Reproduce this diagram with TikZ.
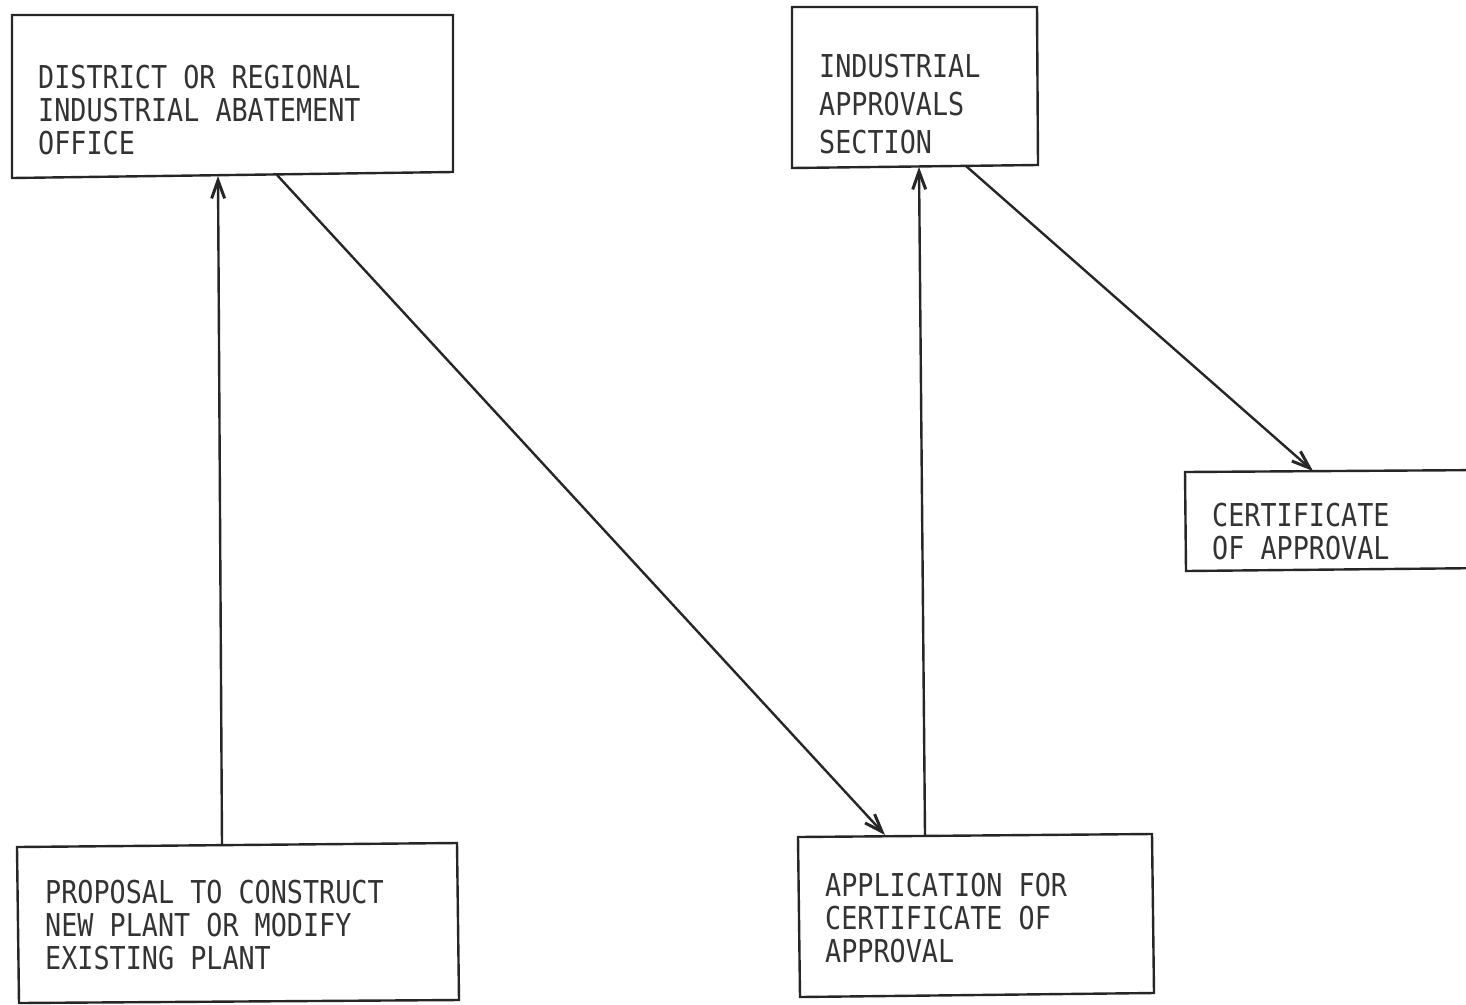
\documentclass[tikz,border=0pt]{standalone}
\usepackage{fontspec}
\setmonofont[FakeStretch=0.85]{DejaVu Sans Mono}
\usetikzlibrary{arrows.meta}
\begin{document}
\begin{tikzpicture}[x=1pt,y=-1pt,
  inkbox/.style={draw=black!85, line width=2.4pt},
  boxtext/.style={anchor=north west, inner sep=0pt, align=left,
    font=\fontsize{31.5}{33}\selectfont\ttfamily, text=black!80},
  flow/.style={draw=black!85, line width=2.4pt,
    -{Straight Barb[length=18pt,width=13pt,line width=3pt]}}]
  \useasboundingbox (0,0) rectangle (1466,1004);

  % boxes
  \draw[inkbox] (12,15) -- (453,15) -- (453,172) -- (12,178) -- cycle;
  \draw[inkbox] (792,7) -- (1037,7) -- (1038,165) -- (792,168) -- cycle;
  \draw[inkbox] (1490,470) -- (1185,472) -- (1186,571) -- (1490,568);
  \draw[inkbox] (798,837) -- (1152,834) -- (1154,993) -- (800,997) -- cycle;
  \draw[inkbox] (17,847) -- (457,843) -- (459,1000) -- (19,1003) -- cycle;

  % box labels
  \node[boxtext] (district) at (38,64.5)
    {DISTRICT OR REGIONAL\\INDUSTRIAL ABATEMENT\\OFFICE};
  \node[boxtext, font=\fontsize{31.5}{38}\selectfont\ttfamily] (section) at (819,54)
    {INDUSTRIAL\\APPROVALS\\SECTION};
  \node[boxtext] (cert) at (1212,502.5)
    {CERTIFICATE\\OF APPROVAL};
  \node[boxtext] (appl) at (825,872.5)
    {APPLICATION FOR\\CERTIFICATE OF\\APPROVAL};
  \node[boxtext] (prop) at (45,879.5)
    {PROPOSAL TO CONSTRUCT\\NEW PLANT OR MODIFY\\EXISTING PLANT};

  % connector end points on the box edges
  \coordinate (propT) at (222,845);
  \coordinate (distB1) at (218,176);
  \coordinate (distB2) at (277,175);
  \coordinate (applT1) at (885,835);
  \coordinate (applT2) at (925,835);
  \coordinate (sectB1) at (919,167);
  \coordinate (sectB2) at (966,166);
  \coordinate (certT) at (1313,471);

  % connectors
  \draw[flow] (propT) -- (distB1);
  \draw[flow] (distB2) -- (applT1);
  \draw[flow] (applT2) -- (sectB1);
  \draw[flow] (sectB2) -- (certT);
\end{tikzpicture}
\end{document}
